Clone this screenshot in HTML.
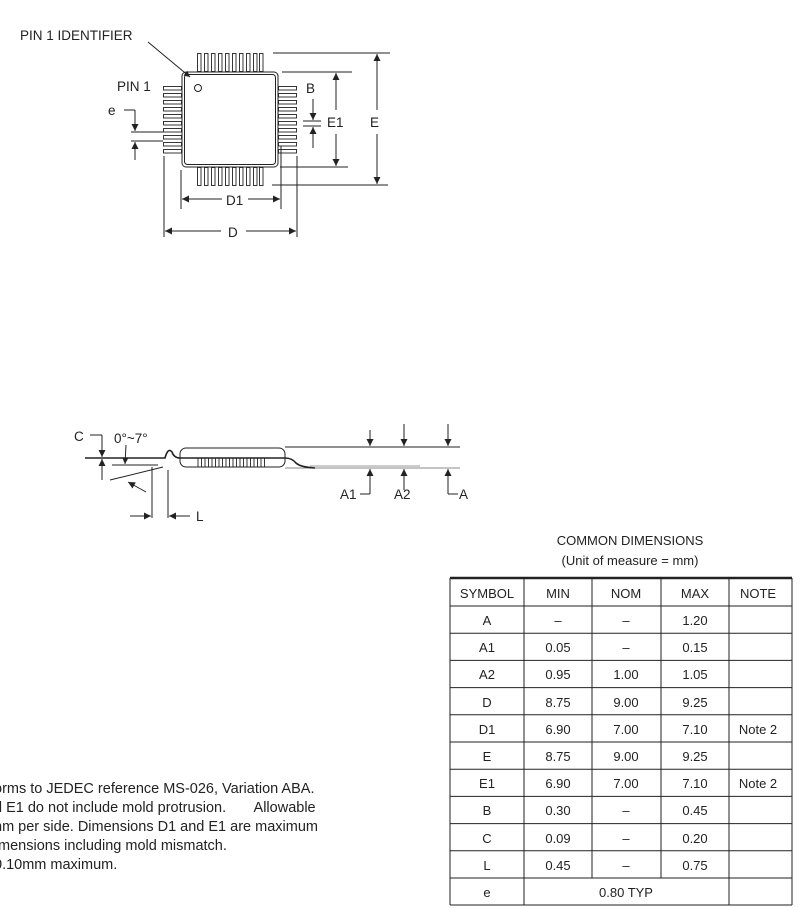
<!DOCTYPE html>
<html><head><meta charset="utf-8"><style>
html,body{margin:0;padding:0;background:#fff;}
body{width:800px;height:908px;overflow:hidden;position:relative;font-family:"Liberation Sans",sans-serif;}
svg text{font-family:"Liberation Sans",sans-serif;fill:#222;}
.notes{position:absolute;left:-6px;top:780px;font-size:14.5px;line-height:19px;color:#222;white-space:pre;}
</style></head><body>
<svg width="800" height="908" viewBox="0 0 800 908" style="position:absolute;left:0;top:0">
<defs>
<marker id="ar" viewBox="0 0 10 10" refX="10" refY="5" markerWidth="9" markerHeight="6" orient="auto-start-reverse" markerUnits="userSpaceOnUse"><path d="M0,0 L10,5 L0,10z" fill="#222"/></marker>
<marker id="al" viewBox="0 0 10 10" refX="10" refY="5" markerWidth="17" markerHeight="7" orient="auto-start-reverse" markerUnits="userSpaceOnUse"><path d="M0,0 L10,5 L0,10z" fill="#222"/></marker>
<marker id="av" viewBox="0 0 10 10" refX="10" refY="5" markerWidth="15" markerHeight="7" orient="auto-start-reverse" markerUnits="userSpaceOnUse"><path d="M0,0 L10,5 L0,10z" fill="#222"/></marker>
</defs>
<g stroke="#222" fill="none" stroke-width="1">
<g stroke-width="0.9">
<rect x="197.5" y="53.5" width="3.5" height="18"/><rect x="204.5" y="53.5" width="3.5" height="18"/><rect x="211.5" y="53.5" width="3.5" height="18"/><rect x="218.5" y="53.5" width="3.5" height="18"/><rect x="225.5" y="53.5" width="3.5" height="18"/><rect x="232.5" y="53.5" width="3.5" height="18"/><rect x="239.5" y="53.5" width="3.5" height="18"/><rect x="246.5" y="53.5" width="3.5" height="18"/><rect x="253.5" y="53.5" width="3.5" height="18"/><rect x="259.5" y="53.5" width="3.5" height="18"/>
<rect x="197.5" y="167.5" width="3.5" height="18"/><rect x="204.5" y="167.5" width="3.5" height="18"/><rect x="211.5" y="167.5" width="3.5" height="18"/><rect x="218.5" y="167.5" width="3.5" height="18"/><rect x="225.5" y="167.5" width="3.5" height="18"/><rect x="232.5" y="167.5" width="3.5" height="18"/><rect x="239.5" y="167.5" width="3.5" height="18"/><rect x="246.5" y="167.5" width="3.5" height="18"/><rect x="253.5" y="167.5" width="3.5" height="18"/><rect x="259.5" y="167.5" width="3.5" height="18"/>
<rect x="163.5" y="86.5" width="18" height="3.5"/><rect x="163.5" y="93.5" width="18" height="3.5"/><rect x="163.5" y="100.5" width="18" height="3.5"/><rect x="163.5" y="107.5" width="18" height="3.5"/><rect x="163.5" y="114.5" width="18" height="3.5"/><rect x="163.5" y="121.5" width="18" height="3.5"/><rect x="163.5" y="128.5" width="18" height="3.5"/><rect x="163.5" y="135.5" width="18" height="3.5"/><rect x="163.5" y="142.5" width="18" height="3.5"/><rect x="163.5" y="149.5" width="18" height="3.5"/>
<rect x="278.5" y="86.5" width="18" height="3.5"/><rect x="278.5" y="93.5" width="18" height="3.5"/><rect x="278.5" y="100.5" width="18" height="3.5"/><rect x="278.5" y="107.5" width="18" height="3.5"/><rect x="278.5" y="114.5" width="18" height="3.5"/><rect x="278.5" y="121.5" width="18" height="3.5"/><rect x="278.5" y="128.5" width="18" height="3.5"/><rect x="278.5" y="135.5" width="18" height="3.5"/><rect x="278.5" y="142.5" width="18" height="3.5"/><rect x="278.5" y="149.5" width="18" height="3.5"/>
</g>
<rect x="182" y="72" width="96" height="95" rx="4" fill="#fff"/>
<rect x="184.5" y="74.5" width="91" height="90" rx="3"/>
<circle cx="198" cy="88" r="3.5"/>
<line x1="148" y1="42" x2="190" y2="77" marker-end="url(#ar)"/>
<line x1="273" y1="53" x2="390" y2="53"/>
<line x1="282" y1="72" x2="352" y2="72"/>
<line x1="280" y1="167" x2="348" y2="167"/>
<line x1="272" y1="185" x2="388" y2="185"/>
<line x1="377" y1="110" x2="377" y2="54" marker-end="url(#av)"/>
<line x1="377" y1="134" x2="377" y2="184" marker-end="url(#av)"/>
<line x1="336" y1="110" x2="336" y2="73" marker-end="url(#av)"/>
<line x1="336" y1="134" x2="336" y2="166" marker-end="url(#av)"/>
<line x1="303" y1="121" x2="321" y2="121"/><line x1="303" y1="126" x2="321" y2="126"/>
<line x1="313" y1="99" x2="313" y2="120" marker-end="url(#av)"/>
<line x1="313" y1="148" x2="313" y2="127" marker-end="url(#av)"/>
<line x1="124" y1="110" x2="135" y2="110"/>
<line x1="135" y1="110" x2="135" y2="131" marker-end="url(#av)"/>
<line x1="131" y1="132" x2="163" y2="132"/><line x1="131" y1="141" x2="163" y2="141"/>
<line x1="135" y1="160" x2="135" y2="142" marker-end="url(#av)"/>
<line x1="164" y1="156" x2="164" y2="237"/><line x1="297" y1="156" x2="297" y2="237"/>
<line x1="181" y1="170" x2="181" y2="209"/><line x1="281" y1="146" x2="281" y2="209"/>
<line x1="222" y1="199" x2="182" y2="199" marker-end="url(#al)"/>
<line x1="248" y1="199" x2="280" y2="199" marker-end="url(#al)"/>
<line x1="221" y1="231" x2="165" y2="231" marker-end="url(#al)"/>
<line x1="246" y1="231" x2="296" y2="231" marker-end="url(#al)"/>
</g>
<g font-size="13.5">
<text x="20" y="40">PIN 1 IDENTIFIER</text>
<text x="117" y="91">PIN 1</text>
<text x="108" y="115">e</text>
<text x="306" y="93">B</text>
<text x="327" y="127">E1</text>
<text x="370" y="127">E</text>
<text x="226" y="205">D1</text>
<text x="228" y="237">D</text>
</g>
<g stroke="#222" fill="none" stroke-width="1">
<line x1="285" y1="447" x2="460" y2="447"/>
<line x1="285" y1="468" x2="460" y2="468" stroke="#888"/>
<line x1="310" y1="466" x2="420" y2="466" stroke="#999"/>
<rect x="180" y="448" width="105" height="19" rx="6"/>
<line x1="85" y1="458" x2="160" y2="458" stroke-width="1.6"/>
<path d="M160,458 L165,458 Q168,447 172,452 Q174,458 180,458 L285,458 Q292,458 296,463 Q300,467 315,468" stroke-width="1.6"/>
<g stroke-width="0.9"><rect x="198" y="458" width="3.5" height="9"/><rect x="205" y="458" width="3.5" height="9"/><rect x="212" y="458" width="3.5" height="9"/><rect x="219" y="458" width="3.5" height="9"/><rect x="226" y="458" width="3.5" height="9"/><rect x="233" y="458" width="3.5" height="9"/><rect x="240" y="458" width="3.5" height="9"/><rect x="247" y="458" width="3.5" height="9"/><rect x="254" y="458" width="3.5" height="9"/><rect x="261" y="458" width="3.5" height="9"/></g>
<line x1="112" y1="465" x2="158" y2="465"/>
<line x1="110" y1="480" x2="163" y2="467"/>
<line x1="152" y1="467" x2="152" y2="518"/><line x1="168" y1="470" x2="168" y2="518"/>
<line x1="130" y1="516" x2="151" y2="516" marker-end="url(#al)"/>
<line x1="190" y1="516" x2="169" y2="516" marker-end="url(#al)"/>
<line x1="90" y1="435" x2="102" y2="435"/>
<line x1="102" y1="435" x2="102" y2="457" marker-end="url(#av)"/>
<line x1="102" y1="480" x2="102" y2="459" marker-end="url(#av)"/>
<line x1="128" y1="482" x2="146" y2="492" marker-start="url(#av)"/>
<line x1="126" y1="445" x2="125" y2="464" marker-end="url(#ar)"/>
<line x1="370" y1="430" x2="370" y2="446" marker-end="url(#av)"/>
<line x1="370" y1="494" x2="370" y2="469" marker-end="url(#av)"/>
<line x1="360" y1="494" x2="370" y2="494"/>
<line x1="404" y1="424" x2="404" y2="446" marker-end="url(#av)"/>
<line x1="404" y1="490" x2="404" y2="469" marker-end="url(#av)"/>
<line x1="448" y1="424" x2="448" y2="446" marker-end="url(#av)"/>
<line x1="448" y1="494" x2="448" y2="469" marker-end="url(#av)"/>
<line x1="448" y1="494" x2="458" y2="494"/>
</g>
<g font-size="13.5">
<text x="74" y="441">C</text>
<text x="114" y="443">0°~7°</text>
<text x="196" y="521">L</text>
<text x="340" y="499">A1</text>
<text x="394" y="499">A2</text>
<text x="459" y="499">A</text>
</g>
<g font-size="13" text-anchor="middle">
<text x="630" y="545">COMMON DIMENSIONS</text>
<text x="630" y="565">(Unit of measure = mm)</text>
</g>
<g stroke="#222" stroke-width="1" fill="none">
<line x1="450" y1="578" x2="792" y2="578" stroke-width="2.5"/>
<line x1="450" y1="606" x2="792" y2="606"/>
<line x1="450" y1="633.2" x2="792" y2="633.2"/><line x1="450" y1="660.4" x2="792" y2="660.4"/><line x1="450" y1="687.6" x2="792" y2="687.6"/><line x1="450" y1="714.8" x2="792" y2="714.8"/><line x1="450" y1="742" x2="792" y2="742"/><line x1="450" y1="769.2" x2="792" y2="769.2"/><line x1="450" y1="796.4" x2="792" y2="796.4"/><line x1="450" y1="823.6" x2="792" y2="823.6"/><line x1="450" y1="850.8" x2="792" y2="850.8"/><line x1="450" y1="878" x2="792" y2="878"/><line x1="450" y1="905" x2="792" y2="905"/>
<line x1="450" y1="578" x2="450" y2="905"/><line x1="524" y1="578" x2="524" y2="905"/>
<line x1="592" y1="578" x2="592" y2="878"/><line x1="661" y1="578" x2="661" y2="878"/>
<line x1="729" y1="578" x2="729" y2="905"/><line x1="792" y1="578" x2="792" y2="905"/>
</g>
<g font-size="13" text-anchor="middle">
<text x="487" y="598">SYMBOL</text><text x="558" y="598">MIN</text><text x="626" y="598">NOM</text><text x="695" y="598">MAX</text><text x="758" y="598">NOTE</text>
<text x="487" y="625">A</text><text x="558" y="625">–</text><text x="626" y="625">–</text><text x="695" y="625">1.20</text>
<text x="487" y="652">A1</text><text x="558" y="652">0.05</text><text x="626" y="652">–</text><text x="695" y="652">0.15</text>
<text x="487" y="679">A2</text><text x="558" y="679">0.95</text><text x="626" y="679">1.00</text><text x="695" y="679">1.05</text>
<text x="487" y="707">D</text><text x="558" y="707">8.75</text><text x="626" y="707">9.00</text><text x="695" y="707">9.25</text>
<text x="487" y="734">D1</text><text x="558" y="734">6.90</text><text x="626" y="734">7.00</text><text x="695" y="734">7.10</text><text x="758" y="734">Note 2</text>
<text x="487" y="761">E</text><text x="558" y="761">8.75</text><text x="626" y="761">9.00</text><text x="695" y="761">9.25</text>
<text x="487" y="788">E1</text><text x="558" y="788">6.90</text><text x="626" y="788">7.00</text><text x="695" y="788">7.10</text><text x="758" y="788">Note 2</text>
<text x="487" y="815">B</text><text x="558" y="815">0.30</text><text x="626" y="815">–</text><text x="695" y="815">0.45</text>
<text x="487" y="843">C</text><text x="558" y="843">0.09</text><text x="626" y="843">–</text><text x="695" y="843">0.20</text>
<text x="487" y="870">L</text><text x="558" y="870">0.45</text><text x="626" y="870">–</text><text x="695" y="870">0.75</text>
<text x="487" y="897">e</text><text x="626" y="897">0.80 TYP</text>
</g>
</svg>
<div class="notes">orms to JEDEC reference MS-026, Variation ABA.
d E1 do not include mold protrusion.       Allowable
nm per side. Dimensions D1 and E1 are maximum
 mensions including mold mismatch.
0.10mm maximum.</div>
</body></html>
